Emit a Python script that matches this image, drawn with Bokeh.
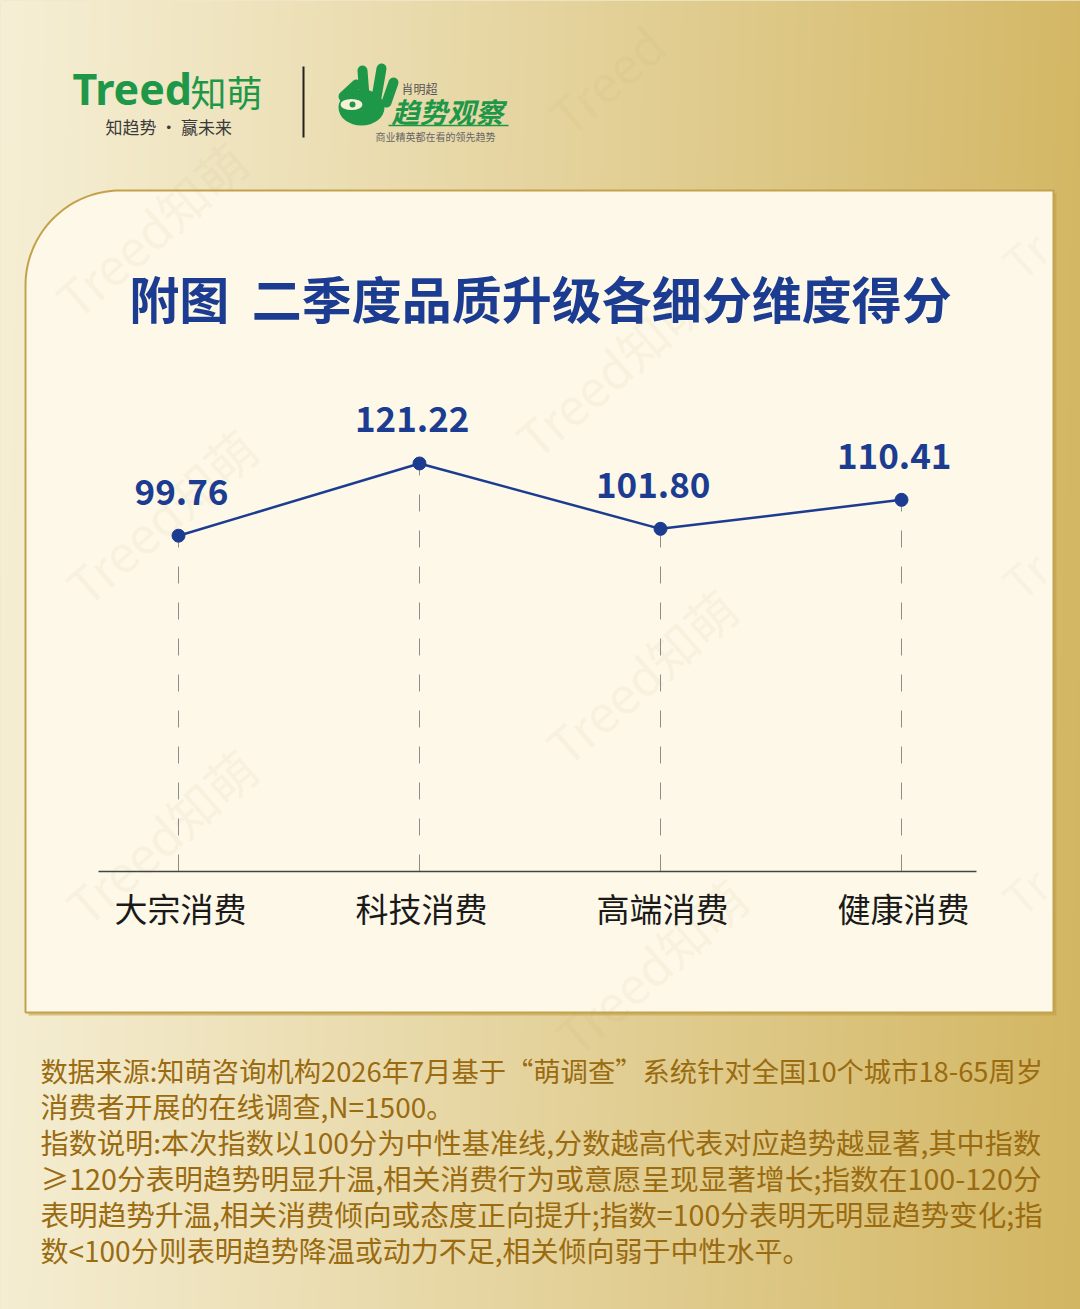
import numpy as np
from bokeh.plotting import figure
from bokeh.models import Range1d
from bokeh.core.properties import value
from bokeh.embed import file_html
from bokeh.resources import INLINE

# ---------------- data ----------------
categories = ["大宗消费", "科技消费", "高端消费", "健康消费"]
scores = [99.76, 121.22, 101.80, 110.41]
score_labels = ["99.76", "121.22", "101.80", "110.41"]
title_text = "附图\u00a0\u00a0二季度品质升级各细分维度得分"
footer_lines = [
    "数据来源:知萌咨询机构2026年7月基于“萌调查”系统针对全国10个城市18-65周岁",
    "消费者开展的在线调查,N=1500。",
    "指数说明:本次指数以100分为中性基准线,分数越高代表对应趋势越显著,其中指数",
    "≥120分表明趋势明显升温,相关消费行为或意愿呈现显著增长;指数在100-120分",
    "表明趋势升温,相关消费倾向或态度正向提升;指数=100分表明无明显趋势变化;指",
    "数<100分则表明趋势降温或动力不足,相关倾向弱于中性水平。",
]

FONT = value("Noto Sans CJK SC")
BLUE = "#1B3C90"
GREEN = "#1E9749"

W, H = 1080, 1309
p = figure(width=W, height=H, x_range=Range1d(0, W), y_range=Range1d(H, 0),
           output_backend="svg", toolbar_location=None, min_border=0,
           x_axis_location=None, y_axis_location=None)
p.grid.visible = False
p.outline_line_color = None
p.background_fill_color = "#E4D39C"
p.border_fill_color = "#E4D39C"
p.extra_x_ranges = {"cat": Range1d(-0.7386, 3.7427)}
p.extra_y_ranges = {"val": Range1d(-130.12, 258.76)}

# ---------------- background gradient ----------------
gw, gh = 540, 100
gx = np.linspace(0, 1, gw)[None, :]
gy = np.linspace(0, 1, gh)[:, None]
t = np.clip(0.95 * gx ** 1.05 + 0.03 * gy, 0, 1)
Lc = np.array([246, 239, 213], dtype=float)
Rc = np.array([210, 181, 96], dtype=float)
col = Lc[None, None, :] + (Rc - Lc)[None, None, :] * t[..., None]
img = np.zeros((gh, gw), dtype=np.uint32)
view = img.view(dtype=np.uint8).reshape((gh, gw, 4))
view[..., 0:3] = col.astype(np.uint8)
view[..., 3] = 255
p.image_rgba(image=[img], x=0, y=0, dw=W, dh=H)

# ---------------- card ----------------
R = 95
cx0, cy0, cx1, cy1 = 25, 190, 1053, 1012
th = np.linspace(np.pi, 1.5 * np.pi, 40)
arc_x = list(cx0 + R + R * np.cos(th))
arc_y = list(cy0 + R + R * np.sin(th))
card_x = arc_x + [cx1, cx1, cx0]
card_y = arc_y + [cy0, cy1, cy1]
p.patch(x=[v + 3 for v in card_x], y=[v + 3 for v in card_y], fill_color="#BE9E48",
        fill_alpha=0.55, line_color=None)
p.patch(x=card_x, y=card_y, fill_color="#FDF8E8", line_color="#C4A24C", line_width=2)

# ---------------- watermarks ----------------
wm_x = [150, 160, 610, 640, 160, 650]
wm_y = [228, 515, 368, 675, 835, 965]
p.text(x=wm_x, y=wm_y, text=["Treed知萌"] * len(wm_x), angle=0.72,
       text_font=FONT, text_font_size="50px", text_color="#B8A26A", text_alpha=0.08,
       text_align="center", text_baseline="middle")
p.text(x=[605], y=[78], text=["Treed"], angle=0.72,
       text_font=FONT, text_font_size="50px", text_color="#B8A26A", text_alpha=0.08,
       text_align="center", text_baseline="middle")
p.text(x=[1008, 1008, 1008], y=[268, 588, 904], text=["Tr", "Tr", "Tr"], angle=0.72,
       text_font=FONT, text_font_size="46px", text_color="#B8A26A", text_alpha=0.08,
       text_align="left", text_baseline="middle")

# ---------------- header logos ----------------
p.text(x=[72], y=[88], text=["Treed"], text_font=value("Noto Sans"), text_font_style="bold",
       text_font_size="43px", text_color=GREEN, text_align="left", text_baseline="middle")
p.text(x=[190], y=[90], text=["知萌"], text_font=FONT, text_font_size="36px",
       text_color=GREEN, text_align="left", text_baseline="middle")
p.text(x=[105], y=[126], text=["知趋势 · 赢未来"], text_font=FONT, text_font_size="17px",
       text_color="#3A3A3A", text_align="left", text_baseline="middle")
p.segment(x0=[303], y0=[66], x1=[303], y1=[137], line_color="#222222", line_width=2)

# hand icon
p.ellipse(x=[361], y=[107], width=[46], height=[36], fill_color=GREEN, line_color=None)
p.segment(x0=[364, 376, 386, 343], y0=[96, 97, 102, 96], x1=[362, 381, 393, 356],
          y1=[70, 68, 82, 84], line_color=GREEN, line_width=10, line_cap="round")
p.ellipse(x=[351], y=[104], width=[22], height=[11], fill_color="#F6F0D6", line_color=None)
p.scatter(x=[352], y=[104], size=6, fill_color=GREEN, line_color=None)

p.text(x=[401], y=[88], text=["肖明超"], text_font=FONT, text_font_size="12px",
       text_color="#555555", text_align="left", text_baseline="middle")
p.text(x=[391], y=[110], text=["趋势观察"], text_font=FONT, text_font_size="28px",
       text_font_style="bold italic", text_color=GREEN, text_align="left", text_baseline="middle")
p.segment(x0=[388], y0=[125], x1=[508], y1=[125], line_color=GREEN, line_width=1.5)
p.text(x=[435], y=[136], text=["商业精英都在看的领先趋势"], text_font=FONT, text_font_size="10px",
       text_color="#666666", text_align="center", text_baseline="middle")

# ---------------- title ----------------
p.text(x=[540], y=[296], text=[title_text], text_font=FONT, text_font_style="bold",
       text_font_size="50px", text_color=BLUE, text_align="center", text_baseline="middle")

# ---------------- chart ----------------
idx = list(range(len(categories)))
zeros = [0] * len(categories)

p.segment(x0=idx, y0=zeros, x1=idx, y1=scores, x_range_name="cat", y_range_name="val",
          line_color="#8C8C8C", line_width=1, line_dash="17 19")
p.segment(x0=[-0.332], y0=[0], x1=[len(categories) - 1 + 0.311], y1=[0],
          x_range_name="cat", y_range_name="val", line_color="#444444", line_width=1.5)
p.line(x=idx, y=scores, x_range_name="cat", y_range_name="val",
       line_color=BLUE, line_width=2.5)
p.scatter(x=idx, y=scores, x_range_name="cat", y_range_name="val", size=13,
          fill_color=BLUE, line_color=BLUE)
p.text(x=idx, y=scores, text=score_labels, x_range_name="cat", y_range_name="val",
       x_offset=50, y_offset=-44, text_font=FONT, text_font_style="bold",
       text_font_size="35px", text_color=BLUE, text_align="right", text_baseline="middle")
p.text(x=idx, y=zeros, text=categories, x_range_name="cat", y_range_name="val",
       x_offset=2, y_offset=36, text_font=FONT, text_font_size="33px",
       text_color="#1A1A1A", text_align="center", text_baseline="middle")

# ---------------- footer ----------------
fy = [1069 + 36 * i for i in range(len(footer_lines))]
f_sizes = ["27.3px", "28px", "28.2px", "28.7px", "28.6px", "28px"]
p.text(x=[40] * len(footer_lines), y=fy, text=footer_lines, text_font=FONT,
       text_font_size=f_sizes, text_color="#9A6B10", text_align="left", text_baseline="middle")

open("out.html", "w").write(file_html(p, INLINE))
